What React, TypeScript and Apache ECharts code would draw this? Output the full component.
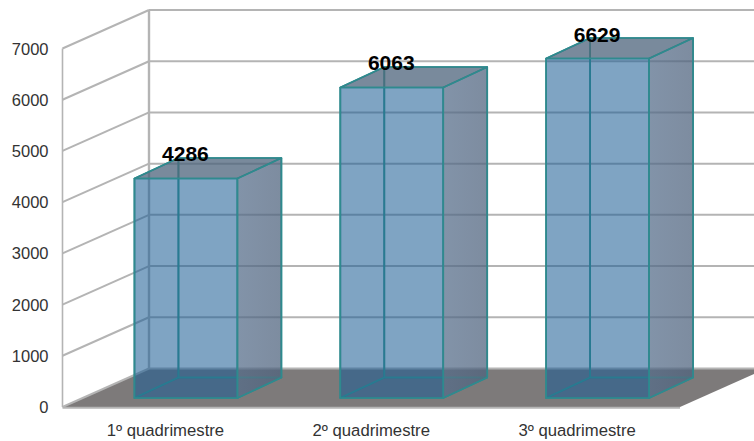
import React, { useEffect, useRef } from "react";
import * as echarts from "echarts";

const categories = ["1º quadrimestre", "2º quadrimestre", "3º quadrimestre"];
const values = [4286, 6063, 6629];
const yTicks = [0, 1000, 2000, 3000, 4000, 5000, 6000, 7000];

// Oblique projection used for the fake 3D: how far the back wall sits from the front plane.
const WALL_DX = 86.5;
const WALL_DY = -38.5;
const BAR_FRONT_DX = 20.5;
const BAR_FRONT_DY = -9;
const BAR_DEPTH_DX = 44;
const BAR_DEPTH_DY = -20.5;

const WALL_COLOR = "#b4b4b4";
const FLOOR_COLOR = "#7d7a7a";
const EDGE_COLOR = "#2f8a8e";
const BACK_FILL = "rgba(28,94,150,0.34)";
const FONT = '"Liberation Sans", Arial, sans-serif';

function renderWall(params: any, api: any) {
  const sys = params.coordSys;
  const tick = api.value(1);
  const y = api.coord([0, tick])[1];
  const left = sys.x;
  const right = sys.x + sys.width;
  const children: any[] = [];
  const wallStyle = { stroke: WALL_COLOR, lineWidth: 2, fill: "none" };

  if (tick === 0) {
    children.push({
      type: "polygon",
      shape: {
        points: [
          [left, y],
          [left + WALL_DX, y + WALL_DY],
          [right + WALL_DX, y + WALL_DY],
          [right, y],
        ],
      },
      style: { fill: FLOOR_COLOR },
    });
    children.push({
      type: "line",
      shape: { x1: left, y1: y + 0.8, x2: right, y2: y + 0.8 },
      style: wallStyle,
    });
    const top = api.coord([0, yTicks[yTicks.length - 1]])[1];
    children.push({
      type: "line",
      shape: { x1: left, y1: top, x2: left, y2: y },
      style: { ...wallStyle, lineWidth: 1.6 },
    });
    children.push({
      type: "line",
      shape: {
        x1: left + WALL_DX,
        y1: top + WALL_DY,
        x2: left + WALL_DX,
        y2: y + WALL_DY,
      },
      style: { ...wallStyle, lineWidth: 2.4 },
    });
  }

  children.push({
    type: "line",
    shape: { x1: left, y1: y, x2: left + WALL_DX, y2: y + WALL_DY },
    style: wallStyle,
  });
  children.push({
    type: "line",
    shape: {
      x1: left + WALL_DX,
      y1: y + WALL_DY,
      x2: right + WALL_DX,
      y2: y + WALL_DY,
    },
    style: wallStyle,
  });
  return { type: "group", children };
}

function renderBox(_params: any, api: any) {
  const idx = api.value(0);
  const value = api.value(1);
  const base = api.coord([idx, 0]);
  const head = api.coord([idx, value]);
  const half = api.size([1, 0])[0] * 0.25;

  const x0 = base[0] + BAR_FRONT_DX - half;
  const x1 = base[0] + BAR_FRONT_DX + half;
  const yb = base[1] + BAR_FRONT_DY;
  const yt = head[1] + BAR_FRONT_DY;
  const dx = BAR_DEPTH_DX;
  const dy = BAR_DEPTH_DY;

  const face = (points: number[][], fill: any) => ({
    type: "polygon",
    shape: { points },
    style: { fill, stroke: EDGE_COLOR, lineWidth: 1.7, lineJoin: "round" },
  });

  const sideFill = new echarts.graphic.LinearGradient(0, 0, 1, 0, [
    { offset: 0, color: "rgba(98,112,135,0.6)" },
    { offset: 1, color: "rgba(90,100,120,0.6)" },
  ]);

  return {
    type: "group",
    children: [
      // Far faces first so the near ones tint them
      face([[x0 + dx, yb + dy], [x1 + dx, yb + dy], [x1 + dx, yt + dy], [x0 + dx, yt + dy]], BACK_FILL),
      face([[x0, yb], [x0 + dx, yb + dy], [x0 + dx, yt + dy], [x0, yt]], BACK_FILL),
      face([[x0, yb], [x1, yb], [x1 + dx, yb + dy], [x0 + dx, yb + dy]], BACK_FILL),
      face([[x1, yb], [x1 + dx, yb + dy], [x1 + dx, yt + dy], [x1, yt]], sideFill),
      face([[x0, yt], [x1, yt], [x1 + dx, yt + dy], [x0 + dx, yt + dy]], "rgba(86,100,118,0.62)"),
      face([[x0, yb], [x1, yb], [x1, yt], [x0, yt]], BACK_FILL),
      {
        type: "text",
        style: {
          text: String(value),
          x: (x0 + x1) / 2 - 0.5,
          y: yt - 24.5,
          fill: "#000000",
          font: `bold 21px ${FONT}`,
          textAlign: "center",
          textBaseline: "middle",
          verticalAlign: "middle",
        },
      },
    ],
  };
}

export default function App() {
  const ref = useRef<HTMLDivElement>(null);

  useEffect(() => {
    const chart = echarts.init(ref.current!, null, { renderer: "svg" });
    chart.setOption({
      animation: false,
      backgroundColor: "#ffffff",
      grid: { left: 62.5, top: 48.5, width: 617.5, height: 358.5, containLabel: false },
      xAxis: {
        type: "category",
        data: categories,
        axisLine: { show: false },
        axisTick: { show: false },
        axisLabel: { color: "#333333", fontFamily: FONT, fontSize: 16.7, margin: 15 },
      },
      yAxis: {
        type: "value",
        min: 0,
        max: 7000,
        interval: 1000,
        axisLine: { show: false },
        axisTick: { show: false },
        splitLine: { show: false },
        axisLabel: {
          color: "#333333",
          fontFamily: FONT,
          fontSize: 16.5,
          margin: 14,
          formatter: (v: number) => String(v),
        },
      },
      series: [
        {
          type: "custom",
          silent: true,
          clip: false,
          z: 1,
          renderItem: renderWall,
          encode: { x: 0, y: 1 },
          data: yTicks.map((t) => [0, t]),
        },
        {
          type: "custom",
          silent: true,
          clip: false,
          z: 2,
          renderItem: renderBox,
          encode: { x: 0, y: 1 },
          data: values.map((v, i) => [i, v]),
        },
      ],
    });
    return () => chart.dispose();
  }, []);

  return (
    <div
      ref={ref}
      style={{ position: "absolute", left: 0, top: 0, width: 754, height: 441 }}
    />
  );
}
